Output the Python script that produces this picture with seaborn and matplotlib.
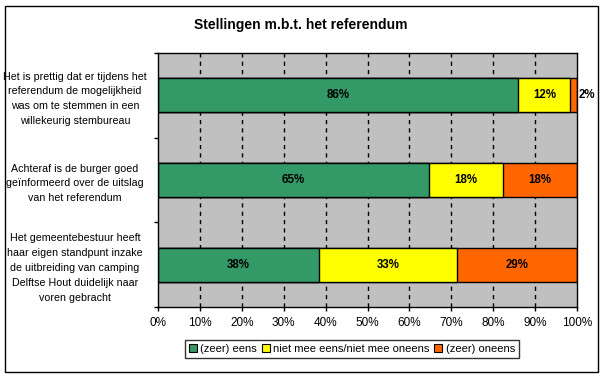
import numpy as np
import pandas as pd
import matplotlib
matplotlib.use("Agg")
import matplotlib.pyplot as plt
from matplotlib.patches import Patch, Rectangle
import seaborn as sns

# Gegevens
stellingen = [
    "Het is prettig dat er tijdens het\nreferendum de mogelijkheid\nwas om te stemmen in een\nwillekeurig stembureau",
    "Achteraf is de burger goed\ngeïnformeerd over de uitslag\nvan het referendum",
    "Het gemeentebestuur heeft\nhaar eigen standpunt inzake\nde uitbreiding van camping\nDelftse Hout duidelijk naar\nvoren gebracht",
]
eens = [86.0, 64.6, 38.4]
neutraal = [12.4, 17.8, 33.0]
oneens = [1.6, 17.6, 28.6]
reeksen = ["(zeer) eens", "niet mee eens/niet mee oneens", "(zeer) oneens"]
kleuren = ["#339966", "#FFFF00", "#FF6600"]
xticks = np.arange(0, 101, 10)

df = pd.DataFrame({"Stelling": stellingen, "eens": eens,
                   "neutraal": neutraal, "oneens": oneens})
df["c1"] = df["eens"]
df["c2"] = df["eens"] + df["neutraal"]
df["c3"] = df["c2"] + df["oneens"]

sns.set_style("white")
plt.rcParams["font.family"] = ["Liberation Sans", "DejaVu Sans"]
plt.rcParams["text.color"] = "black"
plt.rcParams["xtick.color"] = "black"
plt.rcParams["ytick.color"] = "black"
plt.rcParams["axes.labelcolor"] = "black"

fig = plt.figure(figsize=(6.04, 3.77), dpi=100)
ax = fig.add_axes([158 / 604, 1 - 307 / 377, 419 / 604, 254 / 377])
ax.set_facecolor("#C0C0C0")

# gestapelde balken: eerst totaal, dan steeds kleiner
for kol, kleur in zip(["c3", "c2", "c1"], kleuren[::-1]):
    sns.barplot(data=df, x=kol, y="Stelling", color=kleur, saturation=1,
                width=0.4, edgecolor="black", linewidth=1, ax=ax, zorder=3)

# percentages in de balken
for i in range(len(df)):
    links = 0
    for waarde in [eens[i], neutraal[i], oneens[i]]:
        tekst = f"{waarde:.0f}%"
        if waarde < 5:
            ax.text(links + waarde + 0.4, i, tekst, ha="left", va="center",
                    fontsize=8.3, fontweight="bold", zorder=4)
        else:
            ax.text(links + waarde / 2, i, tekst, ha="center", va="center",
                    fontsize=8.3, fontweight="bold", zorder=4)
        links += waarde

ax.set_xlim(0, 100)
ax.set_ylim(2.5, -0.5)
ax.set_xticks(xticks)
ax.set_xticklabels([f"{t}%" for t in xticks], fontsize=8.5)
ax.set_xlabel("")
ax.set_ylabel("")

# verticale stippellijnen
for t in xticks[1:-1]:
    ax.axvline(t, color="black", linestyle=(0, (3, 3)), linewidth=1, zorder=1)

ax.set_yticks([0, 1, 2])
ax.set_yticklabels(stellingen, fontsize=7.7, ha="center", linespacing=1.6)
ax.set_yticks([-0.5, 0.5, 1.5, 2.5], minor=True)
ax.tick_params(axis="y", which="major", length=0, pad=59.8)
ax.tick_params(axis="y", which="minor", length=3, width=1, color="black",
               direction="out", left=True)
ax.tick_params(axis="x", length=3, width=1, color="black", direction="out",
               bottom=True, pad=4)

for sp in ax.spines.values():
    sp.set_color("black")
    sp.set_linewidth(1)
    sp.set_zorder(5)

fig.text(301 / 604, 1 - 25 / 377, "Stellingen m.b.t. het referendum",
         ha="center", va="center", fontsize=10, fontweight="bold")

handles = [Patch(facecolor=k, edgecolor="black", linewidth=0.8, label=r)
           for k, r in zip(kleuren, reeksen)]
leg = fig.legend(handles=handles, loc="center", ncol=3,
                 bbox_to_anchor=(352 / 604, 1 - 349 / 377), fontsize=8,
                 frameon=True, fancybox=False, handlelength=0.7,
                 handleheight=0.7, handletextpad=0.3, columnspacing=0.45,
                 borderpad=0.35, borderaxespad=0)
leg.get_frame().set_edgecolor("black")
leg.get_frame().set_linewidth(1)

# rand om de hele grafiek
fig.patches.append(Rectangle((5 / 604, 5 / 377), 593 / 604, 366 / 377,
                             transform=fig.transFigure, fill=False,
                             edgecolor="black", linewidth=1))

fig.savefig("out.png", dpi=100)
